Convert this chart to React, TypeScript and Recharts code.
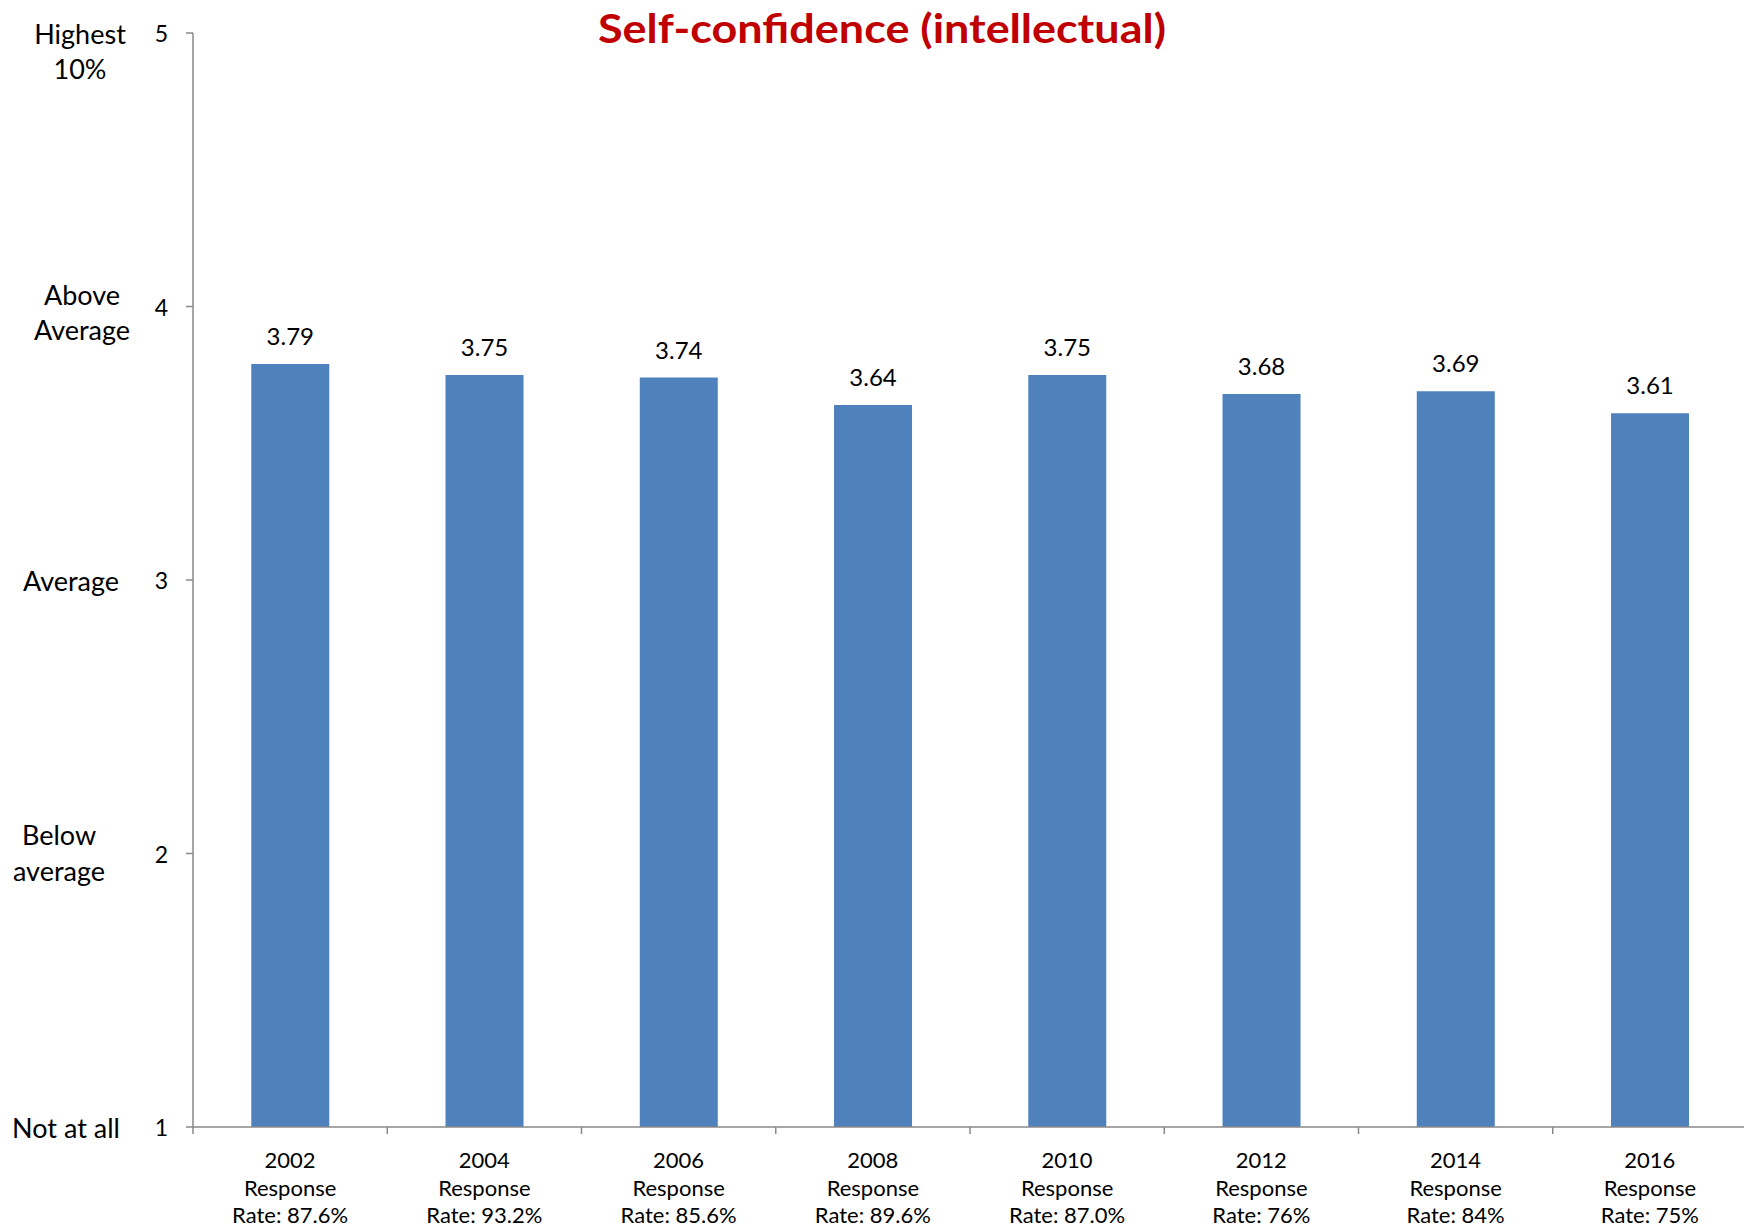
import React from 'react';
import { BarChart, Bar, XAxis, YAxis, LabelList } from 'recharts';

const years = ['2002', '2004', '2006', '2008', '2010', '2012', '2014', '2016'];
const rates = ['87.6%', '93.2%', '85.6%', '89.6%', '87.0%', '76%', '84%', '75%'];
const values = [3.79, 3.75, 3.74, 3.64, 3.75, 3.68, 3.69, 3.61];
const yTicks = [1, 2, 3, 4, 5];
const yTickNames: Record<number, string[]> = {
  5: ['Highest', '10%'],
  4: ['Above', 'Average'],
  3: ['Average'],
  2: ['Below', 'average'],
  1: ['Not at all'],
};
const title = 'Self-confidence (intellectual)';

const data = years.map((y, i) => ({ year: y, rate: rates[i], value: values[i] }));

const W = 1744;
const H = 1230;
const XH = 103;
const M = { top: 33, right: -3, bottom: 0, left: 0 };
const YW = 193;
const PLOT_W = W - M.left - M.right - YW;
const BAND = PLOT_W / years.length;
const AXIS_Y = H - XH;
const FONT = 'Lato, "Open Sans", sans-serif';
const AXIS_COLOR = '#898989';

// placement of the descriptive labels relative to each tick
const nameLayout: Record<number, { cx: number; dys: number[] }> = {
  5: { cx: 80, dys: [0, 35] },
  4: { cx: 82, dys: [-12, 23] },
  3: { cx: 71, dys: [0] },
  2: { cx: 59, dys: [-19, 17] },
  1: { cx: 66, dys: [0] },
};

const YTick = (props: any) => {
  const { y, payload } = props;
  const v = payload.value as number;
  const names = yTickNames[v] || [];
  const lay = nameLayout[v];
  return (
    <g>
      <line x1={YW - 7} x2={YW} y1={y} y2={y} stroke={AXIS_COLOR} strokeWidth={1.5} />
      <text x={168} y={y} textAnchor="end" dominantBaseline="central" fontSize={23} fill="#000" fontFamily={FONT}>
        {v}
      </text>
      {names.map((n, i) => (
        <text
          key={i}
          x={lay.cx}
          y={y + lay.dys[i]}
          textAnchor="middle"
          dominantBaseline="central"
          fontSize={27}
          fill="#000"
          fontFamily={FONT}
        >
          {n}
        </text>
      ))}
    </g>
  );
};

const XTick = (props: any) => {
  const { x, payload, index } = props;
  const d = data.find((r) => r.year === payload.value);
  const left = x - BAND / 2;
  const right = x + BAND / 2;
  return (
    <g>
      <line x1={left} x2={left} y1={AXIS_Y} y2={AXIS_Y + 7} stroke={AXIS_COLOR} strokeWidth={1.5} />
      {index === years.length - 1 && (
        <line x1={right} x2={right} y1={AXIS_Y} y2={AXIS_Y + 7} stroke={AXIS_COLOR} strokeWidth={1.5} />
      )}
      <text x={x} textAnchor="middle" fontSize={22} fill="#000" fontFamily={FONT}>
        <tspan x={x} y={AXIS_Y + 41}>{payload.value}</tspan>
        <tspan x={x} y={AXIS_Y + 69}>Response</tspan>
        <tspan x={x} y={AXIS_Y + 96}>{`Rate: ${d ? d.rate : ''}`}</tspan>
      </text>
    </g>
  );
};

const ValueLabel = (props: any) => {
  const { x, y, width, value } = props;
  return (
    <text
      x={x + width / 2}
      y={y - 19}
      textAnchor="middle"
      fontSize={24}
      fill="#000"
      fontFamily={FONT}
    >
      {Number(value).toFixed(2)}
    </text>
  );
};

export default function App() {
  return (
    <div style={{ position: 'absolute', left: 0, top: 0, width: W, height: H, background: '#fff', overflow: 'hidden' }}>
      <BarChart width={W} height={H} data={data} margin={M} barCategoryGap="30%">
        <XAxis
          dataKey="year"
          interval={0}
          tick={<XTick />}
          tickLine={false}
          axisLine={{ stroke: AXIS_COLOR, strokeWidth: 1.5 }}
          height={XH}
        />
        <YAxis
          domain={[1, 5]}
          ticks={yTicks}
          type="number"
          width={YW}
          tick={<YTick />}
          tickLine={false}
          axisLine={{ stroke: AXIS_COLOR, strokeWidth: 1.5 }}
          allowDataOverflow
        />
        <Bar dataKey="value" fill="#4F81BD" isAnimationActive={false}>
          <LabelList dataKey="value" content={<ValueLabel />} />
        </Bar>
      </BarChart>
      <svg width={W} height={80} style={{ position: 'absolute', left: 0, top: 0 }}>
        <text
          x={882}
          y={43}
          textAnchor="middle"
          fontSize={40}
          fontWeight="bold"
          fill="#C00000"
          fontFamily={FONT}
          textLength={568}
          lengthAdjust="spacingAndGlyphs"
        >
          {title}
        </text>
      </svg>
    </div>
  );
}
